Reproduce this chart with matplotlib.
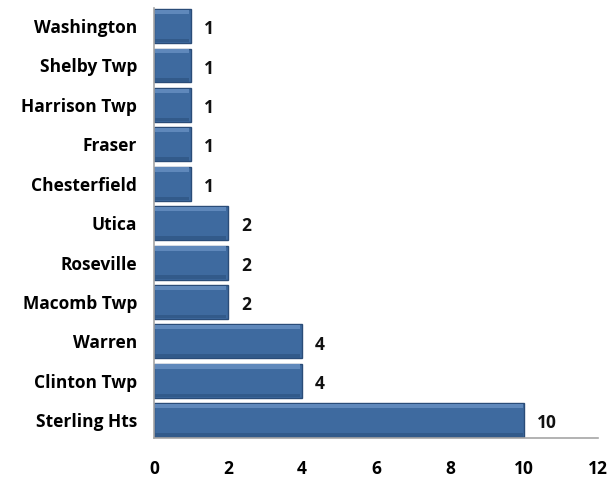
import matplotlib.pyplot as plt

cities = ['Washington', 'Shelby Twp', 'Harrison Twp', 'Fraser', 'Chesterfield',
          'Utica', 'Roseville', 'Macomb Twp', 'Warren', 'Clinton Twp', 'Sterling Hts']
counts = [1, 1, 1, 1, 1, 2, 2, 2, 4, 4, 10]
xticks = [0, 2, 4, 6, 8, 10, 12]

plt.rcParams['font.family'] = ['Open Sans', 'DejaVu Sans']

fig = plt.figure(figsize=(6.08, 4.79), dpi=100)
ax = fig.add_axes([0.253, 0.0856, 0.731, 0.897])

y = list(range(len(cities)))
h = 0.86
# main bar body
ax.barh(y, counts, height=h, color='#3e6a9f', edgecolor='#2a4c78', linewidth=1.0, zorder=2)
# bevel highlight on the upper edge
ax.barh([v - h / 2 + 0.07 for v in y], [c - 0.08 for c in counts], left=0.04,
        height=0.11, color='#5f88bb', linewidth=0, zorder=3)
# darker lower edge
ax.barh([v + h / 2 - 0.06 for v in y], [c - 0.08 for c in counts], left=0.04,
        height=0.09, color='#325a8a', linewidth=0, zorder=3)

for v, c in zip(y, counts):
    ax.text(c + 0.35, v + 0.08, str(c), va='center', ha='left',
            fontsize=12.5, fontweight='bold', color='#111111')

ax.set_ylim(10.45, -0.45)
ax.set_xlim(0, 12)
ax.set_yticks(y)
ax.set_yticklabels(cities, fontsize=12.5, fontweight='bold')
ax.set_xticks(xticks)
ax.set_xticklabels([str(t) for t in xticks], fontsize=12.5, fontweight='bold')
ax.tick_params(axis='x', length=0, pad=16)
ax.tick_params(axis='y', length=0, pad=12)

for s in ['top', 'right']:
    ax.spines[s].set_visible(False)
for s in ['left', 'bottom']:
    ax.spines[s].set_color('#a6a6a6')
    ax.spines[s].set_linewidth(1.2)

fig.savefig('out.png', dpi=100)
